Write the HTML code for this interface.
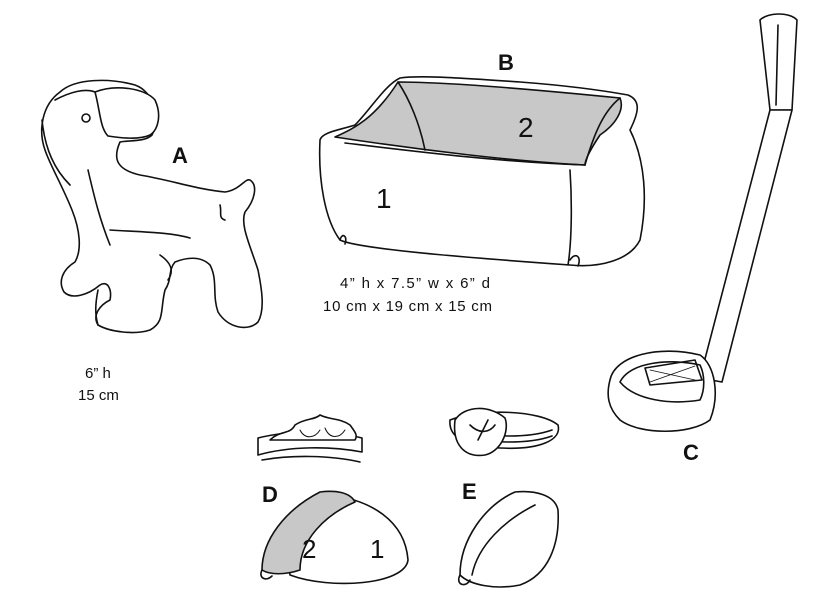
<!DOCTYPE html>
<html><head><meta charset="utf-8"><style>
html,body{margin:0;padding:0;background:#fff;}
svg{display:block;}
text{font-family:"Liberation Sans",Arial,sans-serif;fill:#111;}
</style></head><body>
<svg width="818" height="598" viewBox="0 0 818 598" xmlns="http://www.w3.org/2000/svg" fill="none" stroke="#111" stroke-width="1.6" stroke-linejoin="round" stroke-linecap="round">
<!-- DOG A -->
<path fill="#fff" d="M60,92 C75,78 110,78 135,85 C155,92 160,120 152,135 C145,142 130,140 120,142 C112,160 118,170 140,175 C170,180 200,190 225,192 C240,190 245,178 250,180 C258,185 255,200 245,212 C240,225 250,245 258,270 C262,290 265,310 258,322 C248,332 228,328 218,312 C212,295 218,280 210,265 C200,255 185,258 175,262 C168,270 172,280 165,290 C160,310 165,322 150,330 C135,335 110,332 98,325 C92,315 100,305 110,300 C112,290 108,280 100,285 C88,295 72,300 64,292 C58,282 62,270 75,262 C82,250 80,230 72,210 C62,185 50,165 45,150 C38,130 42,105 60,92 Z"/>
<path fill="#fff" d="M95,92 C115,84 145,88 155,100 C162,115 158,130 150,135 C140,140 120,138 108,136 C100,128 100,110 95,92 Z"/>
<path d="M55,100 C70,92 85,88 95,92"/>
<path d="M42,120 C45,150 55,170 70,185"/>
<path d="M88,170 C95,200 100,220 110,245"/>
<path d="M110,230 C140,232 170,232 190,238"/>
<path d="M160,255 C170,262 175,270 168,280"/>
<path d="M220,205 C222,212 218,218 225,220"/>
<circle cx="86" cy="118" r="4"/>
<path d="M98,290 C95,305 95,315 98,325"/>
<text x="172" y="163" stroke="none" font-size="22" font-weight="bold">A</text>
<text x="85" y="378" stroke="none" font-size="15">6” h</text>
<text x="78" y="400" stroke="none" font-size="15">15 cm</text>
<!-- BED B -->
<text x="498" y="70" stroke="none" font-size="22" font-weight="bold">B</text>
<path fill="#fff" d="M320,140 C318,180 325,220 340,240 C360,250 500,260 570,265 C600,268 630,260 640,240 C648,200 645,160 630,130 C640,110 640,100 628,95 C600,90 560,85 520,82 C460,78 420,75 400,78 C385,85 370,110 355,125 C340,130 322,132 320,140 Z"/>
<path fill="#c8c8c8" d="M335,137 C355,128 375,118 398,82 C440,82 520,88 620,98 C625,110 615,125 600,135 C590,150 585,160 585,165 C520,162 420,150 335,137 Z"/>
<path d="M398,82 C410,100 420,125 425,150"/>
<path d="M620,98 C605,110 595,130 585,165"/>
<path d="M345,143 C420,152 500,162 585,165"/>
<path d="M570,170 C572,200 572,240 568,265"/>
<path d="M340,240 C342,232 348,236 345,244"/>
<path d="M570,260 C575,252 582,256 578,266"/>
<text x="518" y="137" stroke="none" font-size="28">2</text>
<text x="376" y="208" stroke="none" font-size="28">1</text>
<text x="340" y="288" stroke="none" font-size="15" textLength="150">4” h x 7.5” w x 6” d</text>
<text x="323" y="311" stroke="none" font-size="15" textLength="169">10 cm x 19 cm x 15 cm</text>
<!-- LEASH C -->
<path fill="#fff" d="M760,20 C768,12 790,12 797,20 L792,110 L770,110 Z"/>
<path d="M778,25 L776,105"/>
<path fill="#fff" d="M770,110 L792,110 L722,382 L700,378 Z"/>
<path fill="#fff" d="M610,380 C615,355 660,345 700,355 C715,365 720,395 710,420 C690,435 640,435 620,420 C608,408 606,395 610,380 Z"/>
<path fill="#fff" d="M620,382 C630,362 670,358 700,365 C705,375 705,390 700,400 C670,405 635,400 620,382 Z"/>
<path d="M645,368 L695,360 L702,380 L650,385 Z"/>
<path d="M650,370 L695,380 M650,382 L695,366" stroke-width="0.8"/>
<text x="683" y="460" stroke="none" font-size="22" font-weight="bold">C</text>
<!-- TIARA -->
<path fill="#fff" d="M258,438 C290,430 330,430 362,438 L362,452 C330,446 290,446 258,455 Z"/>
<path fill="#fff" d="M270,440 C280,430 290,435 295,425 C305,418 315,420 320,415 C330,420 340,418 350,425 C355,432 358,435 355,440 Z"/>
<path d="M262,460 C290,455 330,455 360,462" />
<path d="M300,430 C305,440 315,438 320,430 M325,428 C330,440 340,438 345,430" stroke-width="1"/>
<!-- FLOWER HEADBAND -->
<path fill="#fff" d="M450,420 C480,408 540,410 558,425 C562,440 540,450 500,448 C470,446 448,440 450,420 Z"/>
<path d="M460,430 C490,438 530,438 552,430 M458,436 C490,444 530,444 552,436"/>
<path fill="#fff" d="M455,420 C465,405 490,405 505,418 C510,432 500,452 485,455 C465,458 452,445 455,420 Z"/>
<path d="M470,425 C480,435 490,432 495,425 M478,440 L488,420"/>
<!-- D -->
<text x="262" y="502" stroke="none" font-size="22" font-weight="bold">D</text>
<path fill="#fff" d="M330,495 C370,500 405,520 408,560 C405,585 330,590 290,575 C285,545 305,515 330,495 Z"/>
<path fill="#c8c8c8" d="M320,492 C335,490 350,492 355,502 C325,515 300,540 300,570 C285,575 270,575 262,570 C262,540 285,510 320,492 Z"/>
<path d="M262,570 C258,578 266,582 272,576"/>
<text x="302" y="558" stroke="none" font-size="26">2</text>
<text x="370" y="558" stroke="none" font-size="26">1</text>
<!-- E -->
<text x="462" y="499" stroke="none" font-size="22" font-weight="bold">E</text>
<path fill="#fff" d="M515,492 C535,490 555,495 558,510 C560,545 548,575 520,585 C495,590 470,585 460,575 C460,540 485,505 515,492 Z"/>
<path d="M535,505 C505,520 478,545 472,575"/>
<path d="M460,575 C455,585 466,588 470,580"/>
</svg>
</body></html>
